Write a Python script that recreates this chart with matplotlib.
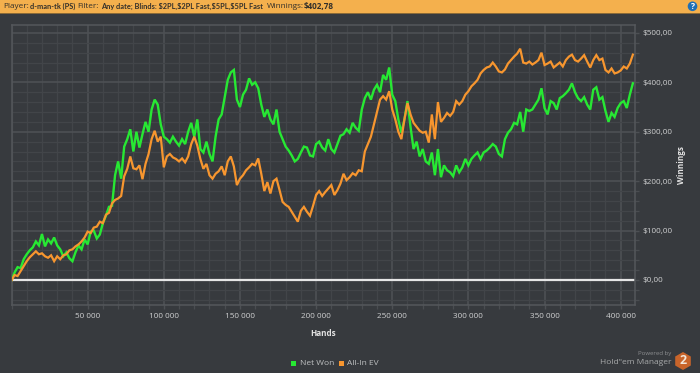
import matplotlib
matplotlib.use("Agg")
import matplotlib.pyplot as plt
from matplotlib.patches import Rectangle, RegularPolygon, Circle
from matplotlib.ticker import FuncFormatter, MultipleLocator

plt.rcParams['font.family'] = ['Open Sans', 'DejaVu Sans']
plt.rcParams['text.parse_math'] = False

# Values read every 2 000 hands, in dollars
net_won = [0,15,26,24,42,52,60,66,78,70,93,68,82,74,86,70,62,48,56,44,38,56,70,62,82,72,98,100,84,92,115,130,148,150,212,240,205,270,285,305,260,300,268,295,320,300,345,365,355,315,290,285,278,290,280,272,285,275,300,318,290,325,265,258,280,255,240,290,325,335,370,405,420,425,365,350,375,385,408,395,400,388,355,330,345,325,315,345,300,285,270,262,252,240,245,258,270,268,252,250,275,280,268,262,285,265,258,275,292,295,305,298,318,308,302,345,368,380,365,385,395,380,415,405,430,375,362,325,298,325,362,310,265,280,250,265,240,235,258,212,265,208,232,222,218,210,232,218,228,245,232,245,252,258,245,258,262,268,275,270,255,250,285,298,305,318,315,340,300,345,342,345,355,365,388,348,335,362,358,345,368,372,378,385,398,380,368,362,370,355,345,385,390,365,370,342,320,338,330,348,358,362,348,375,398]
all_in_ev = [-1,10,8,18,28,38,46,52,58,52,54,48,45,50,38,48,42,50,52,60,62,68,72,78,86,98,95,106,108,118,115,132,136,155,162,165,170,210,225,250,226,224,232,204,235,255,285,302,280,290,228,250,255,248,245,240,246,238,250,275,290,272,245,225,235,212,205,215,220,230,212,240,250,230,192,205,212,222,228,235,232,246,215,180,198,175,200,205,182,158,152,148,138,128,118,140,148,138,130,150,172,180,170,178,185,192,172,182,195,215,202,208,216,212,222,220,260,275,290,315,340,365,372,365,382,345,325,300,285,325,358,335,318,310,302,298,300,278,335,285,360,320,328,338,332,340,362,355,362,375,382,392,398,405,418,425,430,432,440,432,422,420,426,438,445,452,458,468,440,438,442,436,440,445,460,435,438,442,430,435,440,432,445,452,456,445,442,448,455,442,430,445,455,445,448,425,420,428,418,420,424,432,428,438,456]
hands_k = [2 * i for i in range(len(net_won))]

x_ticks = [50, 100, 150, 200, 250, 300, 350, 400]
y_ticks = [0, 100, 200, 300, 400, 500]

BG = '#373a3e'
GREEN = '#27e833'
ORANGE = '#f7962f'
fig = plt.figure(figsize=(7.0, 3.73), dpi=100, facecolor=BG)
ax = fig.add_axes([11.5/700, 1-305/373, (635-11.5)/700, (305-24.5)/373], facecolor=BG)
ax.set_xlim(0.0, 409.4)
ax.set_ylim(-50.6, 517)

ax.xaxis.set_minor_locator(MultipleLocator(10))
ax.yaxis.set_minor_locator(MultipleLocator(20))
ax.set_axisbelow(True)
ax.yaxis.tick_right()
ax.set_xticks(x_ticks)
ax.set_yticks(y_ticks)
ax.xaxis.set_major_formatter(FuncFormatter(lambda v, p: f'{int(v)} 000'))
ax.yaxis.set_major_formatter(FuncFormatter(lambda v, p: f'${int(v)},00'))
ax.grid(which='minor', color='#424549', lw=0.9)
ax.grid(which='major', color='#4d5054', lw=1.2)
ax.tick_params(which='major', axis='both', colors='#4d5054', length=3, width=1,
               labelcolor='#cfd0d1', labelsize=5.9, pad=3)
ax.tick_params(which='minor', axis='both', colors='#4a4d51', length=3, width=0.9)
ax.tick_params(axis='y', which='major', pad=2.5)
for s in ax.spines.values():
    s.set_color('#55585c')
    s.set_linewidth(1.1)

ax.axhline(0, color='#e6e6e6', lw=1.6, zorder=2)
ax.plot(hands_k, net_won, color=GREEN, lw=1.7, zorder=3, solid_joinstyle='miter', label='Net Won')
ax.plot(hands_k, all_in_ev, color=ORANGE, lw=1.6, zorder=4, solid_joinstyle='miter', label='All-In EV')

fig.text(323/700, 1-333/373, 'Hands', color='#e2e2e2', fontsize=5.9, fontweight='bold', ha='center', va='center')
fig.text(682/700, 1-165/373, 'Winnings', color='#e2e2e2', fontsize=5.9, fontweight='bold', rotation=90, ha='center', va='center')

# Overlay in figure pixels for page chrome
ov = fig.add_axes([0, 0, 1, 1], facecolor='none')
ov.set_xlim(0, 700); ov.set_ylim(373, 0); ov.axis('off')
ov.add_patch(Rectangle((0, 0), 700, 13, color='#f4b04d', lw=0))
ov.add_patch(Rectangle((0, 13), 700, 1, color='#8a6a38', lw=0))
hdr = dict(color='#33302a', fontsize=5.9, va='center')
hdr_bold = dict(color='#33302a', fontsize=5.3, va='center', fontweight='bold', family='Lato')
ov.text(3.5, 6.3, 'Player:', **hdr)
ov.text(30, 6.3, 'd-man-tk (PS)', **hdr_bold)
ov.text(77.5, 6.3, 'Filter:', **hdr)
ov.text(101, 6.3, 'Any date; Blinds: $2PL,$2PL Fast,$5PL,$5PL Fast', **hdr_bold)
ov.text(266.5, 6.3, 'Winnings:', **hdr)
ov.text(304, 6.3, '$402,78', color='#33302a', fontsize=5.9, va='center', fontweight='bold')
ov.add_patch(Circle((692.5, 6.3), 4.8, color='#1f6fb5', lw=0))
ov.text(692.5, 6.5, '?', color='white', fontsize=6, fontweight='bold', ha='center', va='center')

ov.add_patch(Rectangle((291, 361), 4.5, 4.5, color=GREEN, lw=0))
ov.text(299.5, 363.5, 'Net Won', color='#bfc1c2', fontsize=6.0, va='center')
ov.add_patch(Rectangle((339, 361), 4.5, 4.5, color=ORANGE, lw=0))
ov.text(347, 363.5, 'All-In EV', color='#bfc1c2', fontsize=6.0, va='center')

ov.text(671, 354, 'Powered by', color='#8d8f91', fontsize=4.3, ha='right', va='center')
ov.text(671, 362, 'Hold"em Manager', color='#a8aaab', fontsize=6.0, ha='right', va='center')
ov.add_patch(RegularPolygon((683, 361), 6, radius=9, color='#c8642a', lw=0))
ov.text(683, 361, '2', color='#f2e6da', fontsize=9, fontweight='bold', ha='center', va='center')

fig.savefig('out.png', dpi=100, facecolor=BG)
